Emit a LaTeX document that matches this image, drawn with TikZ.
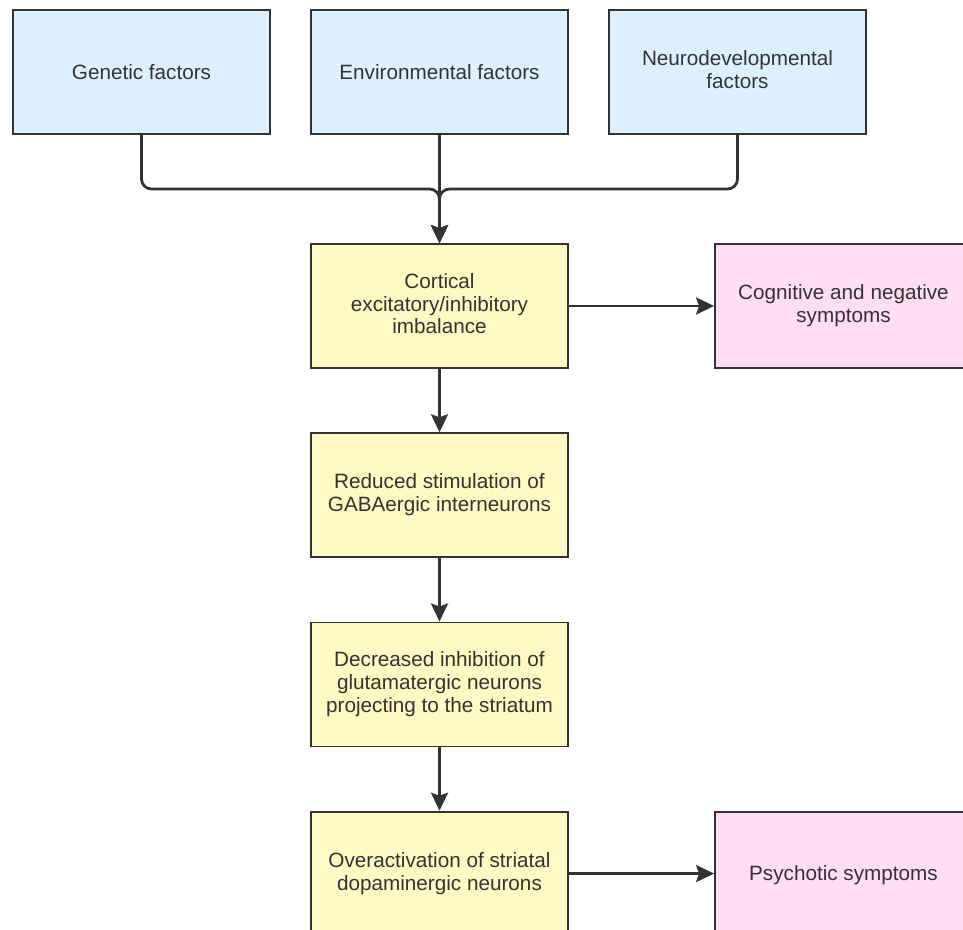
\documentclass[tikz,border=0pt]{standalone}
\usepackage{fontspec}
\setmainfont{Liberation Sans}
\usepackage{xcolor}
\definecolor{linegray}{HTML}{333333}
\definecolor{factorblue}{HTML}{DDF0FF}
\definecolor{stageyellow}{HTML}{FFF9C4}
\definecolor{symptompink}{HTML}{FFDDF4}
\usetikzlibrary{positioning,arrows.meta,calc}

\begin{document}
\begin{tikzpicture}[
      x=0.5pt, y=-0.5pt,
      node distance=31.7pt and 19.6pt,
      box/.style={rectangle, draw=linegray, line width=0.9pt, minimum width=128.5pt,
                  minimum height=62pt, align=center, inner sep=2pt,
                  font=\fontsize{10.35pt}{11.4pt}\selectfont, text=linegray,
                  execute at begin node=\rule{0pt}{9.6pt},
                  execute at end node=\rule[-2.4pt]{0pt}{2.4pt}},
      factor/.style={box, fill=factorblue},
      stage/.style={box, fill=stageyellow},
      symptom/.style={box, fill=symptompink},
      flow/.style={-{Stealth[length=9pt, width=8.5pt, inset=1.5pt]}, line width=1.4pt,
                   draw=linegray, rounded corners=5pt},
    ]
    \useasboundingbox (0,0) rectangle (963,930);

    % causes
    \node[factor] (env) at (439.5,72) {Environmental factors};
    \node[factor, left=of env] (gen) {Genetic factors};
    \node[factor, right=of env] (neuro) {Neurodevelopmental\\factors};

    % cascade
    \node[stage, below=54.1pt of env] (cortical) {Cortical\\excitatory/inhibitory\\imbalance};
    \node[symptom, right=72.6pt of cortical] (cognitive) {Cognitive and negative\\symptoms};
    \node[stage, below=of cortical] (reduced) {Reduced stimulation of\\GABAergic interneurons};
    \node[stage, below=of reduced] (decreased) {Decreased inhibition of\\glutamatergic neurons\\projecting to the striatum};
    \node[stage, below=of decreased] (overact) {Overactivation of striatal\\dopaminergic neurons};
    \node[symptom, right=72.6pt of overact] (psychotic) {Psychotic symptoms};

    \coordinate (join) at ($(env.south)!0.5!(cortical.north)$);

    \draw[flow] (gen.south) |- (join) -- (cortical.north);
    \draw[flow] (neuro.south) |- (join) -- (cortical.north);
    \draw[flow] (env.south) -- (cortical.north);
    \draw[flow] (cortical) -- (cognitive);
    \draw[flow] (cortical) -- (reduced);
    \draw[flow] (reduced) -- (decreased);
    \draw[flow] (decreased) -- (overact);
    \draw[flow] (overact) -- (psychotic);
  \end{tikzpicture}
\end{document}
